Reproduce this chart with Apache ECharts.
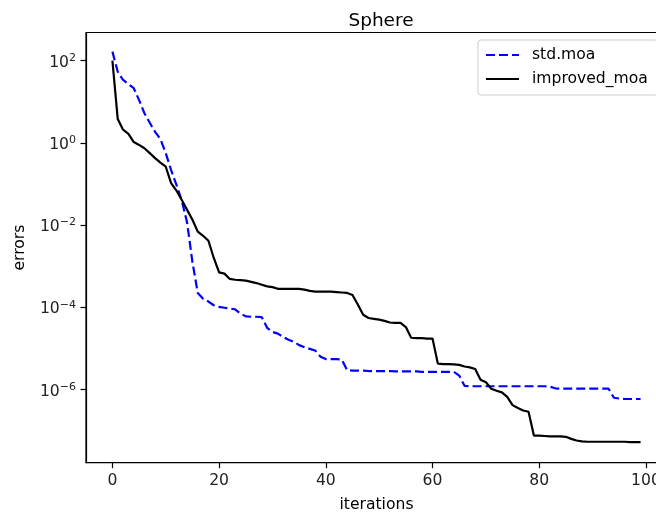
<!DOCTYPE html>
<html>
<head>
<meta charset="utf-8">
<script src="https://cdn.jsdelivr.net/npm/echarts@6/dist/echarts.min.js"></script>
<style>
  html, body { margin: 0; padding: 0; background: #fff; }
  #chart { width: 656px; height: 516px; }
</style>
</head>
<body>
<div id="chart"></div>
<script>
// values are log10(error)
const stdMoaLog = [
  2.22, 1.73, 1.53, 1.43, 1.33, 1.04, 0.72, 0.49, 0.27, 0.09,
  -0.25, -0.66, -1.02, -1.40, -1.94, -2.90, -3.65, -3.79, -3.86, -3.95,
  -3.99, -4.01, -4.03, -4.05, -4.15, -4.22, -4.23, -4.23, -4.24, -4.50,
  -4.60, -4.64, -4.72, -4.79, -4.84, -4.92, -4.97, -5.01, -5.05, -5.20,
  -5.26, -5.26, -5.26, -5.27, -5.53, -5.54, -5.54, -5.54, -5.55, -5.55,
  -5.55, -5.55, -5.55, -5.56, -5.56, -5.56, -5.56, -5.56, -5.57, -5.57,
  -5.57, -5.57, -5.57, -5.57, -5.57, -5.66, -5.91, -5.92, -5.92, -5.92,
  -5.92, -5.92, -5.92, -5.92, -5.92, -5.92, -5.92, -5.92, -5.92, -5.92,
  -5.92, -5.92, -5.93, -5.97, -5.98, -5.98, -5.98, -5.98, -5.98, -5.98,
  -5.98, -5.98, -5.98, -5.98, -6.20, -6.22, -6.23, -6.23, -6.23, -6.23
];
const improvedMoaLog = [
  2.0, 0.58, 0.32, 0.22, 0.02, -0.05, -0.13, -0.25, -0.37, -0.48,
  -0.58, -0.98, -1.16, -1.39, -1.63, -1.87, -2.16, -2.26, -2.38, -2.80,
  -3.15, -3.18, -3.31, -3.33, -3.34, -3.35, -3.38, -3.41, -3.45, -3.49,
  -3.51, -3.55, -3.55, -3.55, -3.55, -3.55, -3.57, -3.60, -3.62, -3.62,
  -3.62, -3.62, -3.63, -3.64, -3.65, -3.70, -3.93, -4.18, -4.26, -4.28,
  -4.30, -4.33, -4.37, -4.38, -4.38, -4.48, -4.74, -4.75, -4.75, -4.76,
  -4.76, -5.37, -5.38, -5.38, -5.39, -5.40, -5.44, -5.46, -5.50, -5.76,
  -5.82, -5.98, -6.03, -6.07, -6.18, -6.38, -6.45, -6.51, -6.54, -7.12,
  -7.12, -7.13, -7.14, -7.14, -7.14, -7.15, -7.20, -7.24, -7.26, -7.27,
  -7.27, -7.27, -7.27, -7.27, -7.27, -7.27, -7.27, -7.28, -7.28, -7.28
];
const iterations = stdMoaLog.map((_, i) => i);
const xTicks = [0, 20, 40, 60, 80, 100];
const yTicks = [-6, -4, -2, 0, 2]; // exponents of 10

const FONT = 'DejaVu Sans';
const chart = echarts.init(document.getElementById('chart'), null, { renderer: 'canvas' });

function expLabel(v) {
  const e = v < 0 ? '\u2212' + Math.abs(v) : String(v);
  return '{a|10}{b|' + e + '}';
}

const option = {
  backgroundColor: '#fff',
  animation: false,
  title: {
    text: 'Sphere',
    left: 376,
    top: 7,
    textAlign: 'center',
    textStyle: { fontFamily: FONT, fontSize: 18.5, fontWeight: 'normal', color: '#000' }
  },
  legend: {
    left: 478,
    top: 40,
    orient: 'vertical',
    itemWidth: 33,
    itemHeight: 14,
    itemGap: 8,
    padding: [7, 10, 8, 7],
    backgroundColor: 'rgba(255,255,255,0.8)',
    borderColor: '#cccccc',
    borderWidth: 1,
    borderRadius: 3,
    itemStyle: { color: 'rgba(0,0,0,0)', borderWidth: 0, opacity: 0 },
    textStyle: { fontFamily: FONT, fontSize: 15.6, color: '#000', lineHeight: 16, padding: [0, 0, 0, 8] },
    data: ['std.moa', 'improved_moa']
  },
  grid: {
    left: 86,
    top: 32.5,
    width: 581,
    height: 430.2,
    show: true,
    borderColor: '#000',
    borderWidth: 1.2,
    containLabel: false,
    outerBoundsMode: 'none'
  },
  xAxis: {
    type: 'value',
    min: -4.95,
    max: 103.95,
    name: 'iterations',
    nameLocation: 'middle',
    nameGap: 34,
    nameTextStyle: { fontFamily: FONT, fontSize: 15.6, color: '#000' },
    splitLine: { show: false },
    axisLine: { onZero: false, lineStyle: { color: '#000', width: 1.2 } },
    axisTick: { customValues: xTicks, length: 5.5, lineStyle: { color: '#000', width: 1.2 } },
    axisLabel: {
      customValues: xTicks,
      margin: 10,
      fontFamily: FONT,
      fontSize: 15.6,
      color: '#222'
    }
  },
  yAxis: {
    type: 'value',
    min: -7.78,
    max: 2.685,
    name: 'errors',
    nameLocation: 'middle',
    nameGap: 58,
    nameTextStyle: { fontFamily: FONT, fontSize: 15.6, color: '#000' },
    splitLine: { show: false },
    axisLine: { onZero: false, lineStyle: { color: '#000', width: 1.2 } },
    axisTick: { customValues: yTicks, length: 5.5, lineStyle: { color: '#000', width: 1.2 } },
    axisLabel: {
      customValues: yTicks,
      margin: 10,
      formatter: expLabel,
      rich: {
        a: { fontFamily: FONT, fontSize: 15.6, lineHeight: 16, padding: [4, 0, 0, 0], color: '#222' },
        b: { fontFamily: FONT, fontSize: 11, lineHeight: 12, verticalAlign: 'top', color: '#222' }
      }
    }
  },
  series: [
    {
      name: 'std.moa',
      type: 'line',
      symbol: 'none',
      data: iterations.map((x, i) => [x, stdMoaLog[i]]),
      lineStyle: { color: '#0000ff', width: 2.2, type: [9, 4] },
      itemStyle: { color: '#0000ff' },
      z: 3
    },
    {
      name: 'improved_moa',
      type: 'line',
      symbol: 'none',
      data: iterations.map((x, i) => [x, improvedMoaLog[i]]),
      lineStyle: { color: '#000000', width: 2.2 },
      itemStyle: { color: '#000000' },
      z: 4
    }
  ]
};

chart.setOption(option);
</script>
</body>
</html>
